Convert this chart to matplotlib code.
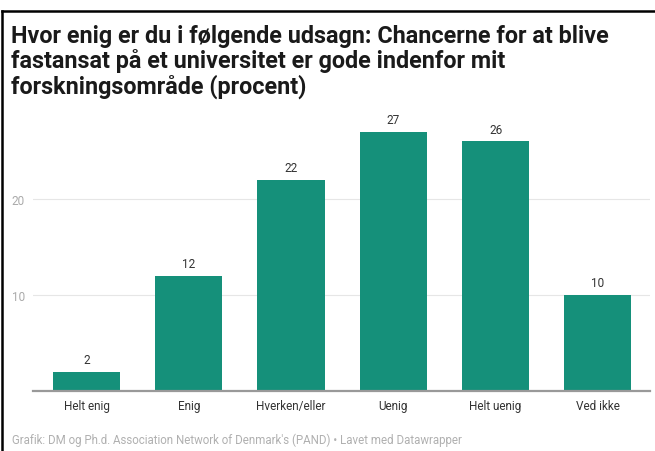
import matplotlib.pyplot as plt
from matplotlib.lines import Line2D

categories = ["Helt enig", "Enig", "Hverken/eller", "Uenig", "Helt uenig", "Ved ikke"]
values = [2, 12, 22, 27, 26, 10]
yticks = [10, 20]

title = ("Hvor enig er du i følgende udsagn: Chancerne for at blive\n"
         "fastansat på et universitet er gode indenfor mit\n"
         "forskningsområde (procent)")
footer = "Grafik: DM og Ph.d. Association Network of Denmark's (PAND) • Lavet med Datawrapper"

W, H = 655, 452
fig = plt.figure(figsize=(W / 100, H / 100), dpi=100)
fig.patch.set_facecolor("white")

ax = fig.add_axes([33 / W, (H - 392) / H, 617 / W, 268.8 / H])
x = range(len(categories))
bars = ax.bar(x, values, width=0.656, color="#15907a", zorder=3)

ax.set_xlim(-0.523, 5.51)
ax.set_ylim(0, 28)

for xi, v in zip(x, values):
    ax.text(xi, v + 0.6, str(v), ha="center", va="bottom",
            fontsize=8.5, color="#333333", family="Roboto")

ax.set_yticks(yticks)
ax.set_yticklabels([str(t) for t in yticks], fontsize=8.5, color="#aaaaaa", family="Roboto")
ax.tick_params(axis="y", length=0, pad=6)
ax.grid(axis="y", color="#e6e6e6", linewidth=0.8, zorder=0)

ax.set_xticks(list(x))
ax.set_xticklabels(categories, fontsize=8.5, color="#333333", family="Roboto")
ax.tick_params(axis="x", length=0, pad=6)

for s in ["top", "right", "left"]:
    ax.spines[s].set_visible(False)
ax.spines["bottom"].set_color("#999999")
ax.spines["bottom"].set_linewidth(1.6)
ax.spines["bottom"].set_zorder(4)

fig.text(11 / W, 1 - 25 / H, title, ha="left", va="top", fontsize=16.8,
         fontweight="bold", color="#1a1a1a", family="Roboto", linespacing=1.07)
fig.text(12 / W, 1 - 440 / H, footer, ha="left", va="center", fontsize=8.3,
         color="#b0b0b0", family="Roboto")

# frame lines from the screenshot
fig.add_artist(Line2D([2 / W, 1], [1 - 12 / H, 1 - 12 / H], color="black", linewidth=1.8,
                      transform=fig.transFigure))
fig.add_artist(Line2D([2 / W, 2 / W], [0, 1 - 12 / H], color="black", linewidth=1.8,
                      transform=fig.transFigure))

fig.savefig("out.png", dpi=100)
